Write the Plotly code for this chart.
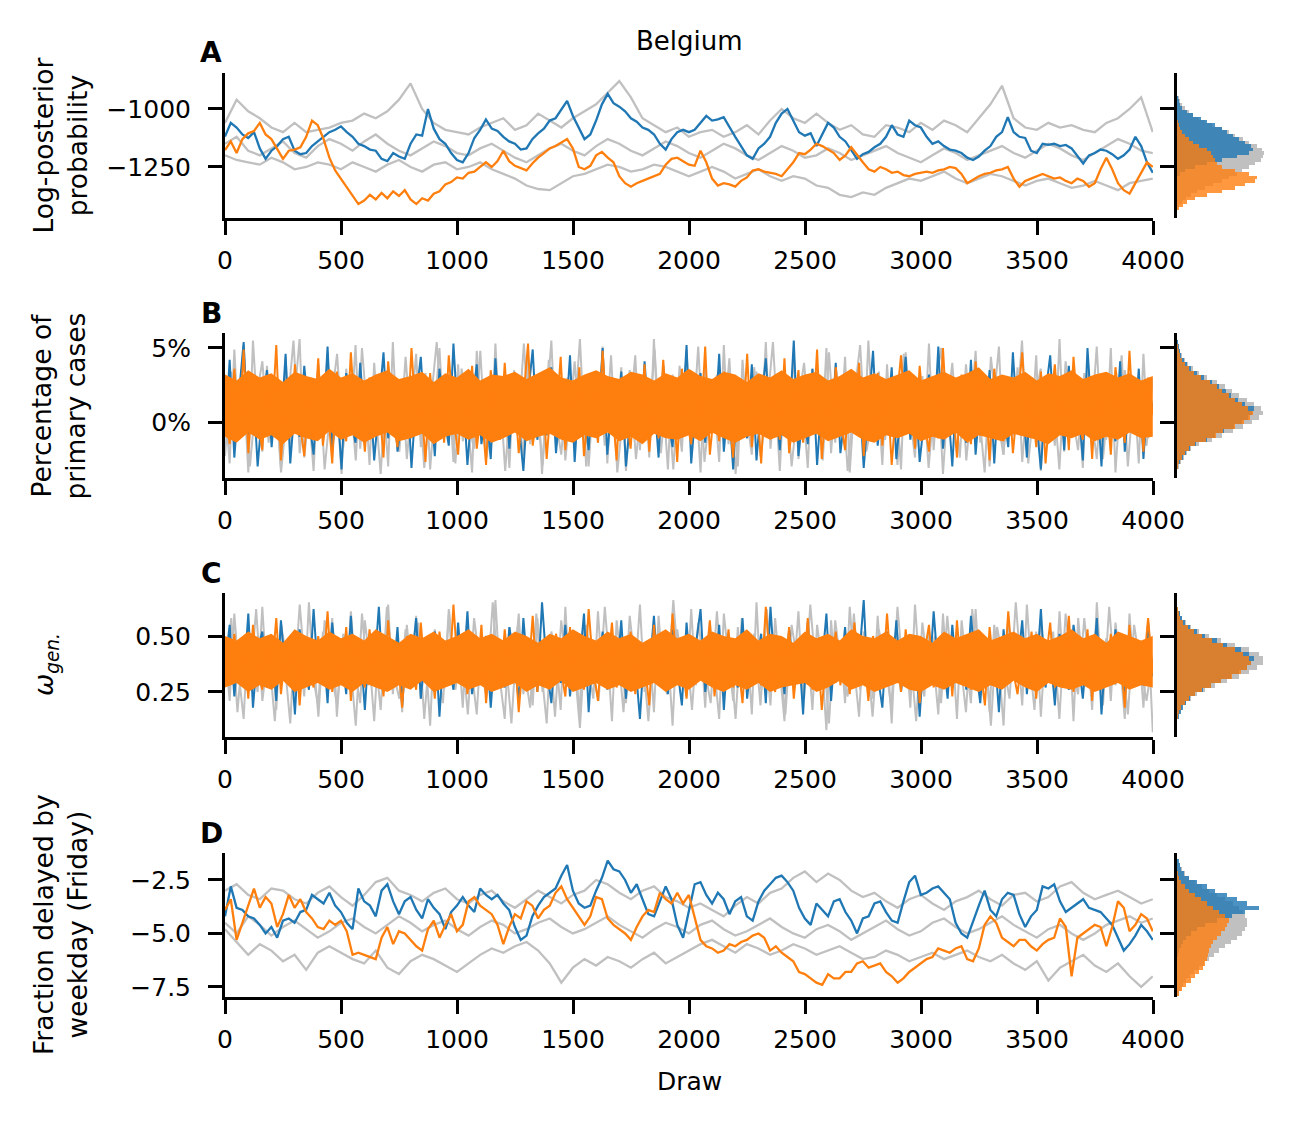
import numpy as np
import plotly.graph_objects as go

W, H = 1300, 1126
BLUE = "#1f77b4"
ORANGE = "#ff7f0e"
GREY = "#c0c0c0"
FONT = "DejaVu Sans"

# ---------------- Panel A: log-posterior probability ----------------
lp_blue = [-1119,-1060,-1080,-1110,-1125,-1100,-1170,-1215,-1180,-1160,
 -1130,-1120,-1180,-1195,-1190,-1160,-1140,-1120,-1100,-1090,
 -1075,-1100,-1120,-1150,-1160,-1175,-1180,-1215,-1225,-1190,
 -1205,-1215,-1150,-1110,-1115,-1000,-1085,-1130,-1150,-1190,
 -1220,-1230,-1190,-1125,-1090,-1045,-1085,-1095,-1120,-1140,
 -1150,-1175,-1170,-1130,-1105,-1085,-1050,-1040,-1000,-965,
 -1030,-1080,-1130,-1110,-1050,-980,-935,-975,-990,-1010,
 -1040,-1055,-1080,-1090,-1110,-1150,-1175,-1130,-1100,-1090,
 -1100,-1090,-1060,-1030,-1050,-1045,-1035,-1080,-1120,-1160,
 -1200,-1215,-1170,-1150,-1120,-1060,-1020,-1000,-1050,-1100,
 -1115,-1105,-1160,-1110,-1060,-1080,-1120,-1140,-1175,-1215,
 -1195,-1185,-1165,-1150,-1120,-1070,-1110,-1120,-1050,-1070,
 -1080,-1120,-1150,-1140,-1160,-1175,-1180,-1190,-1210,-1220,
 -1205,-1180,-1160,-1120,-1100,-1035,-1100,-1120,-1125,-1180,
 -1190,-1150,-1155,-1150,-1160,-1155,-1170,-1200,-1235,-1200,
 -1190,-1175,-1180,-1195,-1215,-1200,-1175,-1120,-1160,-1230,
 -1275]
lp_orange = [-1177,-1140,-1190,-1130,-1105,-1095,-1060,-1110,-1130,-1170,
 -1215,-1180,-1175,-1165,-1120,-1050,-1070,-1130,-1210,-1265,
 -1300,-1335,-1370,-1410,-1395,-1370,-1390,-1362,-1385,-1355,
 -1375,-1350,-1390,-1410,-1385,-1395,-1365,-1355,-1325,-1315,
 -1295,-1300,-1275,-1270,-1250,-1230,-1250,-1225,-1180,-1225,
 -1245,-1255,-1265,-1235,-1210,-1190,-1170,-1160,-1145,-1130,
 -1170,-1250,-1260,-1245,-1200,-1185,-1210,-1230,-1290,-1320,
 -1335,-1320,-1310,-1300,-1290,-1280,-1240,-1215,-1210,-1225,
 -1240,-1245,-1180,-1230,-1300,-1330,-1320,-1325,-1335,-1310,
 -1295,-1265,-1260,-1270,-1275,-1280,-1290,-1260,-1230,-1190,
 -1195,-1175,-1150,-1160,-1175,-1190,-1220,-1200,-1165,-1200,
 -1230,-1260,-1270,-1250,-1260,-1275,-1270,-1285,-1290,-1280,
 -1275,-1270,-1275,-1265,-1260,-1250,-1255,-1280,-1320,-1305,
 -1290,-1280,-1275,-1265,-1260,-1250,-1300,-1335,-1310,-1300,
 -1290,-1280,-1290,-1300,-1295,-1310,-1320,-1300,-1310,-1335,
 -1320,-1260,-1210,-1260,-1320,-1350,-1365,-1320,-1270,-1230,
 -1250]
lp_grey1 = [-1060,-960,-1010,-1040,-1080,-1100,-1060,-1100,-1090,-1080,
 -1060,-1050,-1020,-1040,-1010,-960,-890,-1000,-1060,-1090,
 -1100,-1110,-1080,-1060,-1040,-1090,-1070,-1020,-1050,-1080,
 -1040,-1010,-980,-930,-880,-950,-1040,-1070,-1100,-1080,
 -1120,-1100,-1090,-1120,-1100,-1070,-1110,-1050,-1000,-1040,
 -1060,-1020,-1060,-1090,-1070,-1110,-1120,-1070,-1080,-1100,
 -1060,-1090,-1050,-1070,-1100,-1040,-980,-900,-1040,-1080,
 -1090,-1060,-1080,-1070,-1090,-1100,-1060,-1040,-1000,-950,
 -1100]
lp_grey2 = [-1150,-1120,-1180,-1200,-1170,-1140,-1190,-1210,-1160,-1130,
 -1150,-1180,-1140,-1110,-1150,-1180,-1200,-1170,-1140,-1160,
 -1190,-1200,-1170,-1150,-1180,-1210,-1230,-1200,-1170,-1150,
 -1180,-1200,-1160,-1130,-1150,-1180,-1200,-1170,-1140,-1160,
 -1190,-1210,-1180,-1150,-1170,-1200,-1220,-1190,-1160,-1180,
 -1210,-1200,-1170,-1190,-1220,-1200,-1180,-1160,-1190,-1210,
 -1230,-1200,-1170,-1190,-1220,-1200,-1180,-1160,-1190,-1210,
 -1180,-1150,-1170,-1200,-1220,-1190,-1160,-1130,-1150,-1180,
 -1190]
lp_grey3 = [-1200,-1220,-1230,-1240,-1210,-1230,-1260,-1250,-1230,-1240,
 -1260,-1230,-1250,-1270,-1240,-1220,-1250,-1270,-1240,-1230,
 -1260,-1250,-1230,-1260,-1280,-1300,-1330,-1345,-1350,-1320,
 -1290,-1280,-1260,-1240,-1250,-1270,-1260,-1240,-1250,-1270,
 -1290,-1270,-1250,-1270,-1300,-1280,-1260,-1290,-1310,-1290,
 -1300,-1330,-1340,-1370,-1380,-1360,-1370,-1340,-1320,-1300,
 -1310,-1290,-1270,-1300,-1320,-1300,-1280,-1290,-1310,-1330,
 -1310,-1300,-1320,-1340,-1330,-1310,-1330,-1350,-1320,-1310,
 -1300]

# ---------------- Panel B: percentage of primary cases ----------------
pc_orange = [0.8,-1.5,3.6,-0.7,4.9,-2.1,2.4,0.3,-1.9,3.1,
 -0.4,5.2,-2.6,1.8,-1.0,3.9,0.1,-2.3,2.6,-0.9,
 4.3,-1.6,1.2,-2.8,3.4,0.6,-1.3,4.7,-0.5,2.0,
 -2.0,3.0,-0.8,1.5,-2.4,4.1,0.2,-1.7,2.8,-1.1,
 5.0,-0.3,1.9,-2.7,3.3,-0.6,2.2,-1.4,4.5,0.4,
 -2.2,2.7,-0.9,3.8,-1.8,1.0,-2.9,3.5,0.0,-1.2,
 4.0,-0.7,2.5,-2.1,1.4,5.3,-1.6,0.7,3.2,-2.5,
 1.7,-0.2,4.4,-1.9,2.1,-1.0,3.7,-2.3,0.9,2.9,
 -1.4,4.8,-0.5,1.3,-2.6,3.0,0.5,-1.8,2.4,-0.8,
 3.9,-2.0,1.6,-1.1,4.2,-0.4,2.3,-2.7,3.6,0.2,
 -1.5,2.8,-0.6,5.1,-2.2,1.1,-1.3,3.4,0.8,-2.4,
 2.0,-0.9,4.6,-1.7,1.8,-2.8,3.1,-0.1,2.6,-1.2,
 4.3,-2.1,0.6,3.5,-1.4,2.2,-0.7,4.9,-2.5,1.4,
 -1.0,3.7,0.3,-1.9,2.7,-0.5,4.0,-2.3,1.9,-0.8,
 3.3,-1.6,2.5,-2.9,1.2,4.5,-0.3,2.1,-1.8,3.8,
 0.1,-2.0,2.9,-1.1,5.0,-0.6,1.7,-2.4,3.2,0.7,
 -1.5,4.1,-0.9,2.3,-2.6,3.6,0.4,-1.3,2.8,-2.1,
 1.5,4.7,-0.4,2.0,-1.7,3.4,-2.8,1.0,3.9,-0.7,
 2.4,-1.9,4.4,0.2,-1.2,2.6,-2.5,3.1,-0.3,1.8,
 -2.2,3.7,0.9,-1.4,4.8,-0.8,2.2,-2.0,3.0,0.5]
pc_blue = [-0.9,4.2,-2.4,1.9,5.4,-1.3,2.7,-3.0,0.8,3.5,
 -1.7,2.2,-0.4,4.6,-2.8,1.3,-1.0,3.8,0.3,-2.2,
 2.9,-0.7,5.1,-1.9,1.6,-3.2,3.3,0.1,-1.4,4.0,
 -0.5,2.5,-2.6,1.0,4.7,-1.1,3.1,-2.0,0.6,2.8,
 -3.1,1.7,4.4,-0.8,2.0,-2.3,3.6,0.4,-1.6,5.3,
 -0.2,2.4,-2.9,1.2,3.9,-1.5,0.9,-2.5,4.3,-0.6,
 2.6,-1.8,3.2,0.0,-3.3,1.8,4.9,-1.2,2.1,-0.9,
 3.7,-2.1,1.4,-0.3,4.5,-2.7,2.3,0.7,-1.9,3.0,
 -0.4,5.0,-2.2,1.5,-1.0,3.4,-3.0,0.5,2.7,-1.3,
 4.1,-0.7,1.9,-2.4,3.8,0.2,-1.7,2.9,-0.1,5.2,
 -2.8,1.1,3.3,-1.4,2.0,-0.6,4.6,-2.0,1.6,-3.2,
 2.5,0.3,-1.1,3.9,-2.6,1.3,4.3,-0.8,2.2,-1.9,
 3.1,-0.3,5.5,-2.3,0.9,-1.5,3.6,-2.9,1.7,2.8,
 -1.0,4.0,-2.1,0.6,3.4,-0.5,2.4,-3.1,1.2,4.8,
 -1.6,2.1,-0.2,3.7,-2.5,1.0,4.4,-1.2,2.6,-2.7,
 0.4,3.2,-0.9,5.1,-1.8,1.5,-3.0,2.9,0.1,-1.4,
 4.2,-2.2,1.8,-0.6,3.5,-2.8,2.3,0.8,-1.7,4.7,
 -0.4,2.0,-2.4,3.0,0.2,-3.2,1.9,4.5,-1.1,2.7,
 -1.9,3.8,-0.7,1.4,-2.6,5.0,-0.1,2.2,-3.0,3.3,
 0.5,-1.3,4.1,-2.0,1.7,-0.8,3.6,-2.5,2.4,0.9]
pc_grey1 = [1.2,-2.8,4.9,-1.0,2.6,-3.4,5.5,0.3,-2.0,3.8,
 -0.6,1.9,-3.1,4.4,-1.5,2.3,5.6,-2.4,0.7,-3.3,
 3.1,-0.9,4.7,-2.2,1.4,-3.5,3.6,0.0,5.2,-1.8,
 2.0,-2.9,4.0,-0.4,1.6,-3.0,5.4,-1.2,2.8,-2.5,
 0.9,4.6,-1.7,3.3,-3.2,1.1,5.0,-0.7,2.4,-2.7,
 3.9,-1.3,0.5,-3.4,4.8,-0.2,2.2,-2.1,5.3,-1.0,
 1.7,-3.1,3.5,0.4,-2.3,4.3,-0.8,2.7,-3.5,1.3,
 5.5,-1.6,2.9,-2.6,0.8,4.1,-0.5,3.0,-3.0,1.8,
 -1.4,5.1,-2.8,2.1,-0.3,3.7,-3.3,1.0,4.5,-1.9,
 2.5,-2.4,5.6,-0.9,1.5,-3.2,3.2,0.6,-2.0,4.9,
 -1.1,2.0,-3.4,3.8,-0.4,1.2,-2.7,5.2,-1.5,2.6,
 -3.0,4.2,0.1,-2.2,3.4,-0.7,5.4,-1.8,1.9,-3.3,
 2.8,-0.2,4.6,-2.5,1.0,-3.1,3.6,0.5,-1.3,5.0,
 -2.1,2.3,-0.6,4.4,-3.4,1.4,3.1,-1.7,5.5,-0.3,
 2.0,-2.9,3.9,-1.0,1.6,-3.2,4.7,0.2,-2.4,3.3,
 -0.8,5.3,-1.9,2.5,-3.5,1.1,4.0,-0.5,2.9,-2.6,
 0.7,4.8,-1.4,3.0,-3.0,1.8,5.1,-2.2,2.2,-0.9,
 3.7,-2.7,1.3,-0.4,4.5,-3.3,2.6,0.9,-1.6,5.6,
 -2.0,3.2,-0.7,1.7,-3.1,4.3,0.0,-2.5,2.4,-1.2,
 5.0,-3.4,1.5,3.5,-0.6,2.1,-2.8,4.6,-1.1,1.0]
pc_grey2 = [-2.3,3.4,-0.5,5.2,-3.0,1.6,4.1,-1.4,2.7,-3.4,
 0.9,5.5,-2.1,2.0,-0.8,3.9,-3.2,1.2,4.6,-1.7,
 2.5,-2.6,5.0,-0.3,1.8,-3.5,3.3,0.4,-2.0,4.4,
 -1.1,2.9,-3.1,1.4,5.4,-0.6,2.2,-2.8,3.6,0.1,
 -1.8,4.8,-2.4,1.0,3.1,-3.3,2.4,-0.9,5.3,-1.5,
 1.9,-2.9,4.2,0.6,-2.2,3.0,-0.4,5.6,-3.0,1.5,
 2.8,-1.6,4.5,-3.4,0.8,3.5,-2.5,1.7,-0.7,4.9,
 -2.1,2.3,-3.2,3.8,0.2,-1.3,5.1,-2.7,1.3,3.2,
 -0.5,4.3,-3.5,2.0,-1.0,3.7,-2.3,0.7,5.4,-1.9,
 2.6,-3.0,1.1,4.0,-0.8,2.1,-2.6,4.7,-1.4,3.0,
 -3.3,1.6,5.2,-2.0,0.3,3.4,-1.2,2.5,-2.9,4.6,
 0.0,-1.7,3.1,-3.1,1.9,5.0,-0.6,2.7,-2.4,3.9,
 -1.0,1.2,-3.4,4.4,0.5,-2.2,2.9,-0.3,5.5,-2.8,
 1.4,3.6,-1.5,2.2,-3.2,4.1,0.8,-1.9,3.3,-0.9,
 5.1,-2.5,1.8,-0.4,4.5,-3.0,2.4,0.2,-1.6,3.0]
# solid core of the orange chain (upper / lower edge), every 50 draws
pc_orange_hi = [3.2,2.8,3.5,3.0,3.3,2.7,3.4,3.1,2.9,3.6,
 3.0,3.3,2.8,3.2,3.5,2.9,3.1,3.4,2.7,3.3,
 3.0,3.6,2.8,3.2,3.1,3.4,2.9,3.3,3.7,3.0,
 2.8,3.2,3.5,3.1,2.9,3.4,3.2,2.8,3.3,3.0,
 3.6,3.1,2.9,3.4,3.2,2.7,3.3,3.0,3.5,2.9,
 3.2,3.4,2.8,3.1,3.6,3.0,3.3,2.9,3.2,3.5,
 2.8,3.1,3.4,3.0,3.3,3.7,2.9,3.2,3.0,3.4,
 2.8,3.3,3.1,3.5,2.9,3.2,3.4,3.0,3.3,2.8,
 3.1]
pc_orange_lo = [-1.0,-1.4,-0.7,-1.2,-0.9,-1.5,-0.8,-1.1,-1.3,-0.6,
 -1.2,-0.9,-1.4,-1.0,-0.7,-1.3,-1.1,-0.8,-1.5,-1.0,
 -0.8,-1.2,-0.9,-1.4,-1.1,-0.7,-1.3,-1.0,-0.8,-1.2,
 -1.4,-0.9,-1.1,-0.7,-1.3,-1.0,-1.5,-0.8,-1.1,-1.2,
 -0.9,-1.3,-0.7,-1.1,-1.4,-1.0,-0.8,-1.2,-0.9,-1.4,
 -1.1,-0.8,-1.3,-1.0,-0.7,-1.2,-1.4,-0.9,-1.1,-0.8,
 -1.3,-1.0,-1.2,-0.7,-1.4,-0.9,-1.1,-1.3,-0.8,-1.0,
 -1.2,-1.5,-0.9,-1.1,-0.8,-1.3,-1.0,-1.2,-0.7,-1.1,
 -1.0]

# ---------------- Panel C: omega_gen ----------------
om_orange = [0.42,0.28,0.51,0.31,0.47,0.22,0.55,0.35,0.26,0.49,
 0.33,0.58,0.24,0.44,0.30,0.52,0.19,0.46,0.37,0.27,
 0.50,0.32,0.61,0.25,0.43,0.29,0.54,0.21,0.48,0.36,
 0.27,0.53,0.34,0.45,0.23,0.57,0.31,0.41,0.18,0.50,
 0.38,0.26,0.56,0.30,0.47,0.22,0.52,0.35,0.28,0.64,
 0.33,0.49,0.24,0.44,0.29,0.55,0.20,0.46,0.37,0.27,
 0.53,0.32,0.48,0.16,0.42,0.30,0.59,0.25,0.45,0.34,
 0.28,0.51,0.36,0.23,0.54,0.31,0.47,0.26,0.62,0.35,
 0.21,0.49,0.33,0.56,0.27,0.43,0.30,0.52,0.24,0.46,
 0.38,0.19,0.55,0.32,0.48,0.26,0.60,0.34,0.41,0.22,
 0.50,0.29,0.45,0.35,0.57,0.23,0.47,0.31,0.53,0.27,
 0.40,0.20,0.51,0.33,0.46,0.28,0.63,0.36,0.25,0.49,
 0.32,0.54,0.22,0.44,0.30,0.58,0.26,0.48,0.17,0.42,
 0.35,0.52,0.28,0.47,0.24,0.56,0.33,0.43,0.21,0.50,
 0.37,0.29,0.60,0.31,0.45,0.25,0.53,0.34,0.48,0.20,
 0.42,0.55,0.27,0.46,0.32,0.51,0.23,0.57,0.30,0.44,
 0.26,0.49,0.36,0.19,0.54,0.33,0.47,0.28,0.61,0.35,
 0.24,0.45,0.31,0.52,0.22,0.48,0.38,0.56,0.27,0.43,
 0.34,0.59,0.25,0.46,0.30,0.53,0.21,0.49,0.36,0.28,
 0.51,0.32,0.44,0.18,0.55,0.29,0.47,0.35,0.58,0.33]
om_blue = [0.36,0.55,0.23,0.47,0.30,0.60,0.18,0.44,0.52,0.27,
 0.49,0.21,0.57,0.33,0.45,0.15,0.53,0.38,0.26,0.62,
 0.31,0.48,0.20,0.56,0.35,0.43,0.24,0.59,0.29,0.46,
 0.17,0.51,0.34,0.63,0.25,0.44,0.28,0.54,0.19,0.48,
 0.37,0.58,0.22,0.45,0.31,0.52,0.14,0.47,0.39,0.26,
 0.56,0.30,0.61,0.24,0.43,0.35,0.50,0.18,0.46,0.33,
 0.27,0.54,0.40,0.21,0.58,0.32,0.47,0.25,0.65,0.36,
 0.20,0.49,0.29,0.55,0.23,0.44,0.37,0.60,0.16,0.48,
 0.34,0.52,0.26,0.45,0.31,0.57,0.22,0.50,0.38,0.13,
 0.47,0.33,0.59,0.28,0.43,0.24,0.53,0.36,0.19,0.56,
 0.30,0.46,0.62,0.25,0.41,0.32,0.55,0.17,0.48,0.35,
 0.27,0.58,0.22,0.44,0.37,0.51,0.20,0.63,0.31,0.45,
 0.24,0.53,0.34,0.47,0.15,0.56,0.29,0.42,0.36,0.60,
 0.21,0.49,0.32,0.54,0.26,0.45,0.39,0.66,0.23,0.47,
 0.33,0.18,0.52,0.30,0.57,0.25,0.44,0.35,0.50,0.14,
 0.46,0.28,0.61,0.34,0.42,0.22,0.55,0.31,0.48,0.26,
 0.59,0.37,0.20,0.50,0.33,0.45,0.16,0.53,0.29,0.43,
 0.36,0.57,0.24,0.47,0.31,0.62,0.27,0.44,0.19,0.51,
 0.35,0.26,0.55,0.40,0.22,0.48,0.32,0.58,0.15,0.46,
 0.30,0.53,0.37,0.23,0.50,0.34,0.45,0.28,0.56,0.32]
om_grey1 = [0.45,0.21,0.60,0.32,0.13,0.54,0.38,0.25,0.63,0.29,
 0.48,0.17,0.56,0.35,0.11,0.51,0.41,0.23,0.65,0.30,
 0.19,0.52,0.36,0.58,0.14,0.44,0.27,0.61,0.33,0.20,
 0.57,0.39,0.12,0.49,0.31,0.64,0.24,0.46,0.16,0.55,
 0.34,0.59,0.22,0.42,0.10,0.53,0.37,0.26,0.62,0.28,
 0.47,0.18,0.56,0.33,0.15,0.50,0.40,0.21,0.66,0.30,
 0.13,0.54,0.36,0.60,0.24,0.45,0.19,0.58,0.32,0.11,
 0.52,0.41,0.17,0.63,0.27,0.48,0.14,0.55,0.35,0.22,
 0.61,0.29,0.44,0.12,0.57,0.38,0.20,0.51,0.33,0.64,
 0.25,0.47,0.16,0.59,0.31,0.43,0.10,0.53,0.37,0.23,
 0.62,0.28,0.49,0.18,0.56,0.34,0.13,0.60,0.40,0.21,
 0.54,0.30,0.46,0.15,0.65,0.26,0.42,0.19,0.58,0.36,
 0.12,0.50,0.33,0.61,0.24,0.45,0.17,0.55,0.39,0.08,
 0.57,0.29,0.48,0.20,0.63,0.35,0.14,0.52,0.41,0.22,
 0.59,0.27,0.44,0.11,0.56,0.32,0.47,0.18,0.64,0.34,
 0.23,0.53,0.38,0.15,0.60,0.30,0.46,0.13,0.57,0.37,
 0.20,0.62,0.28,0.50,0.16,0.55,0.36,0.10,0.59,0.31,
 0.45,0.19,0.64,0.33,0.52,0.14,0.48,0.40,0.23,0.61,
 0.27,0.54,0.12,0.58,0.35,0.43,0.17,0.65,0.30,0.49,
 0.21,0.56,0.38,0.13,0.60,0.32,0.46,0.18,0.53,0.07]
om_grey2 = [0.33,0.58,0.16,0.49,0.27,0.62,0.21,0.44,0.12,0.55,
 0.38,0.24,0.64,0.30,0.47,0.14,0.57,0.35,0.19,0.51,
 0.42,0.10,0.60,0.28,0.45,0.17,0.63,0.34,0.22,0.53,
 0.31,0.56,0.13,0.48,0.39,0.20,0.61,0.26,0.46,0.15,
 0.58,0.36,0.23,0.65,0.29,0.43,0.11,0.54,0.37,0.18,
 0.60,0.25,0.50,0.14,0.57,0.32,0.41,0.09,0.55,0.35,
 0.21,0.63,0.28,0.47,0.16,0.59,0.33,0.44,0.12,0.52,
 0.38,0.24,0.66,0.30,0.49,0.17,0.56,0.36,0.20,0.61,
 0.27,0.45,0.13,0.58,0.34,0.51,0.19,0.62,0.29,0.42,
 0.15,0.55,0.37,0.22,0.64,0.31,0.48,0.11,0.57,0.35,
 0.23,0.60,0.26,0.46,0.14,0.53,0.39,0.18,0.63,0.30,
 0.44,0.12,0.56,0.33,0.50,0.20,0.59,0.27,0.41,0.16,
 0.62,0.34,0.47,0.10,0.54,0.38,0.22,0.65,0.29,0.45,
 0.17,0.57,0.32,0.52,0.13,0.60,0.36,0.24,0.58,0.31,
 0.48,0.19,0.63,0.28,0.43,0.15,0.55,0.37,0.21,0.40]
om_orange_hi = [0.50,0.48,0.52,0.49,0.51,0.47,0.53,0.50,0.48,0.52,
 0.49,0.51,0.48,0.53,0.50,0.47,0.51,0.49,0.52,0.48,
 0.50,0.53,0.49,0.51,0.48,0.52,0.50,0.47,0.51,0.49,
 0.53,0.50,0.48,0.52,0.49,0.51,0.47,0.50,0.53,0.49,
 0.51,0.48,0.52,0.50,0.49,0.53,0.48,0.51,0.50,0.47,
 0.52,0.49,0.51,0.48,0.53,0.50,0.49,0.52,0.48,0.51,
 0.50,0.47,0.52,0.49,0.51,0.53,0.48,0.50,0.52,0.49,
 0.51,0.48,0.50,0.53,0.49,0.51,0.47,0.52,0.50,0.48,
 0.50]
om_orange_lo = [0.27,0.29,0.25,0.28,0.26,0.30,0.25,0.27,0.29,0.26,
 0.28,0.25,0.29,0.27,0.25,0.28,0.26,0.30,0.25,0.27,
 0.29,0.26,0.28,0.25,0.27,0.29,0.25,0.28,0.26,0.30,
 0.25,0.27,0.29,0.26,0.28,0.25,0.27,0.29,0.25,0.28,
 0.26,0.30,0.27,0.25,0.28,0.26,0.29,0.25,0.27,0.28,
 0.29,0.25,0.27,0.30,0.26,0.28,0.25,0.27,0.29,0.26,
 0.25,0.28,0.26,0.29,0.27,0.25,0.28,0.26,0.30,0.27,
 0.25,0.29,0.27,0.26,0.28,0.25,0.27,0.29,0.26,0.28,
 0.27]

# ---------------- Panel D: fraction delayed by weekday (Friday) ----------------
fd_blue = [-4.2,-2.8,-3.8,-3.9,-4.2,-4.3,-4.6,-5.0,-4.7,-5.2,
 -4.4,-4.3,-4.5,-4.0,-3.9,-3.2,-3.4,-3.6,-3.1,-3.7,
 -4.0,-4.5,-4.8,-2.9,-3.5,-3.7,-4.2,-3.0,-2.7,-3.5,
 -4.1,-3.5,-3.3,-3.9,-4.3,-3.4,-3.8,-4.1,-4.8,-4.0,
 -3.7,-3.3,-3.7,-4.0,-2.9,-3.2,-3.4,-3.2,-3.6,-3.9,
 -4.7,-5.3,-5.1,-4.2,-3.7,-3.3,-3.1,-2.9,-2.3,-1.8,
 -3.0,-3.6,-3.8,-3.7,-3.0,-2.4,-1.6,-2.0,-2.1,-2.5,
 -3.1,-2.7,-3.4,-4.1,-4.2,-3.5,-2.8,-3.4,-4.6,-5.2,
 -3.9,-2.7,-2.6,-3.2,-3.6,-3.1,-3.4,-4.1,-3.5,-3.3,
 -4.2,-4.4,-3.5,-3.0,-2.7,-2.4,-2.3,-2.6,-3.0,-3.8,
 -4.3,-4.6,-3.6,-3.9,-4.2,-3.5,-3.4,-4.0,-4.4,-5.0,
 -4.3,-4.2,-3.6,-3.5,-4.0,-4.4,-4.5,-3.5,-2.6,-2.3,
 -3.2,-3.1,-2.9,-2.8,-3.1,-3.4,-4.5,-5.0,-5.2,-4.4,
 -3.7,-3.0,-3.9,-4.2,-3.4,-3.1,-3.2,-4.1,-4.7,-4.2,
 -3.9,-2.8,-2.9,-2.7,-3.5,-4.0,-3.8,-3.6,-3.4,-3.8,
 -3.9,-4.0,-4.3,-4.6,-5.2,-5.8,-5.5,-5.1,-4.6,-4.9,
 -5.3]
fd_orange = [-3.9,-3.4,-5.3,-4.5,-3.6,-2.9,-3.8,-3.3,-3.6,-4.7,
 -4.1,-3.2,-3.8,-3.4,-4.0,-4.3,-4.7,-4.8,-4.4,-4.6,
 -4.4,-4.9,-6.0,-5.9,-6.0,-6.1,-6.2,-5.2,-4.7,-5.5,
 -4.9,-5.0,-5.3,-5.6,-5.8,-4.8,-4.4,-5.2,-4.6,-4.1,
 -4.9,-4.6,-3.5,-3.3,-3.7,-3.9,-4.1,-4.6,-5.5,-4.7,
 -4.1,-4.3,-3.5,-3.7,-4.3,-3.9,-3.7,-3.1,-2.8,-3.4,
 -3.8,-4.2,-4.6,-4.2,-3.3,-3.4,-4.3,-4.6,-4.8,-5.0,
 -5.3,-4.7,-4.2,-3.9,-4.0,-3.1,-3.4,-3.6,-3.1,-3.6,
 -3.2,-4.3,-5.3,-5.6,-5.7,-5.9,-5.8,-5.5,-5.6,-5.4,
 -5.3,-5.1,-5.0,-5.2,-5.8,-5.6,-5.9,-6.1,-6.3,-6.8,
 -6.9,-7.1,-7.3,-7.4,-6.9,-7.1,-7.1,-6.8,-6.8,-6.4,
 -6.3,-6.6,-6.5,-6.4,-6.8,-7.0,-7.3,-7.1,-6.8,-6.6,
 -6.4,-6.2,-6.1,-5.7,-5.8,-5.9,-5.7,-5.6,-6.2,-6.3,
 -5.7,-4.6,-4.2,-4.5,-5.2,-5.4,-5.6,-5.3,-5.3,-5.6,
 -5.8,-5.5,-5.3,-5.2,-4.3,-4.7,-7.0,-5.2,-5.0,-4.8,
 -4.6,-4.7,-5.6,-4.7,-3.5,-3.8,-4.9,-4.6,-4.1,-4.3,
 -4.9]
fd_grey1 = [-3.0,-2.7,-3.2,-3.4,-2.9,-3.0,-3.4,-3.6,-3.1,-2.8,
 -3.3,-3.7,-3.2,-2.6,-2.4,-3.0,-3.2,-3.5,-3.1,-2.9,
 -3.4,-3.6,-3.2,-3.0,-3.5,-3.8,-3.4,-3.0,-3.3,-3.6,
 -3.2,-3.0,-2.5,-2.7,-3.1,-3.4,-3.0,-2.8,-3.3,-3.5,
 -3.8,-3.6,-3.9,-4.2,-3.7,-3.3,-3.6,-3.1,-2.9,-2.4,
 -2.1,-2.6,-2.2,-2.5,-3.0,-3.3,-3.1,-3.5,-3.8,-3.4,
 -3.2,-3.6,-3.9,-3.5,-3.3,-3.0,-3.4,-3.7,-3.2,-3.1,
 -3.5,-3.3,-2.8,-2.6,-3.1,-3.4,-3.2,-3.0,-3.3,-3.6,
 -3.4]
fd_grey2 = [-4.5,-5.0,-4.2,-4.6,-5.1,-4.7,-4.4,-4.8,-5.2,-4.9,
 -4.5,-4.3,-4.7,-5.0,-4.6,-4.2,-4.5,-4.9,-4.6,-4.4,
 -4.8,-5.1,-4.7,-4.4,-4.6,-5.0,-4.8,-4.5,-4.3,-4.7,
 -5.0,-4.8,-4.5,-4.2,-4.6,-4.9,-5.2,-4.8,-4.5,-4.7,
 -5.0,-4.6,-4.4,-4.8,-5.1,-4.9,-4.6,-4.3,-4.7,-5.0,
 -5.2,-4.8,-4.6,-4.9,-5.3,-5.0,-4.7,-4.4,-4.8,-5.1,
 -4.9,-4.5,-4.3,-4.7,-5.0,-4.8,-4.5,-4.2,-4.6,-4.9,
 -5.2,-4.8,-4.6,-5.0,-5.3,-5.0,-4.6,-4.4,-4.2,-4.5,
 -4.3]
fd_grey3 = [-4.8,-5.4,-6.0,-5.5,-5.8,-6.3,-6.0,-6.7,-5.9,-5.6,
 -5.9,-6.2,-6.4,-5.8,-6.6,-6.9,-6.3,-6.0,-6.2,-6.5,
 -6.8,-6.4,-6.0,-5.7,-5.9,-5.6,-5.4,-5.8,-6.4,-7.3,
 -6.6,-6.2,-6.5,-6.1,-6.3,-6.6,-6.2,-5.9,-6.4,-6.1,
 -5.8,-5.5,-5.3,-5.6,-5.9,-5.5,-5.7,-6.0,-5.8,-5.5,
 -5.7,-6.0,-5.8,-5.6,-5.9,-6.2,-6.1,-5.8,-6.0,-6.3,
 -6.1,-5.9,-6.2,-6.0,-5.8,-6.1,-6.3,-6.0,-6.4,-6.7,
 -6.3,-7.2,-6.6,-6.3,-6.0,-6.5,-6.8,-6.4,-7.0,-7.5,
 -7.0]

# ---------------- Marginal histograms (bar lengths) ----------------
hA_bins = np.arange(-1430, -940, 15)
hA_grey = [0,2,5,9,14,20,28,36,45,52,60,65,72,78,84,86,87,85,80,72,66,58,52,45,35,28,22,16,12,8,5,3,2]
hA_blue = [0,0,0,0,0,0,0,0,0,0,3,8,18,30,45,60,72,76,74,68,62,56,50,45,38,30,24,16,10,5,3,2,1]
hA_orange = [2,6,10,18,30,45,58,68,78,80,72,58,45,40,38,36,34,30,22,16,12,8,5,3,2,1,0,0,0,0,0,0,0]

hB_bins = np.arange(-3.0, 5.5, 0.3)
hB_grey = [2,4,7,10,14,22,35,45,56,66,75,82,86,84,77,70,62,55,48,40,30,22,16,11,8,5,3,2,1]
hB_blue = [1,3,6,9,13,19,30,38,47,57,65,71,75,77,68,61,54,49,42,35,27,20,14,10,7,4,3,2,1]
hB_orange = [1,2,5,8,12,18,29,39,46,58,67,73,76,71,65,58,52,45,40,33,24,17,12,8,5,3,2,1,0]

hC_bins = np.arange(0.14, 0.63, 0.02)
hC_grey = [1,3,5,9,14,20,28,38,50,62,72,80,86,86,82,72,58,44,32,22,14,9,5,3,1]
hC_blue = [2,4,6,9,13,18,26,34,44,54,62,70,74,77,72,64,50,40,28,20,13,8,5,3,1]
hC_orange = [1,2,4,8,12,18,25,34,44,55,64,70,74,72,66,58,46,35,25,17,11,6,3,2,1]

hD_bins = np.arange(-7.8, -1.5, 0.2)
hD_grey = [2,4,6,9,13,17,22,27,32,37,42,48,54,60,65,68,70,70,68,66,62,56,48,40,32,25,18,12,8,5,3,1]
hD_blue = [0,0,0,0,0,0,0,0,0,1,2,4,6,9,14,20,28,40,55,68,82,70,60,50,38,30,20,12,7,4,3,2]
hD_orange = [2,5,9,14,18,22,26,28,30,31,32,34,36,40,44,48,50,52,48,42,36,30,24,18,12,8,4,2,1,0,0,0]

# ---------------- Axis labels & ticks ----------------
x_ticks = [0, 500, 1000, 1500, 2000, 2500, 3000, 3500, 4000]

panels = [
    dict(letter="A", title="Log-posterior<br>probability", tx=60,
         blue=lp_blue, orange=lp_orange, greys=[lp_grey1, lp_grey2, lp_grey3], core=None,
         hist=(hA_bins, 15, hA_grey, hA_blue, hA_orange),
         rng=[-1470, -845], tv=[-1250, -1000], tt=["\u22121250", "\u22121000"],
         top=73, bot=218, lw=2.3),
    dict(letter="B", title="Percentage of<br>primary cases", tx=58,
         blue=pc_blue, orange=pc_orange, greys=[pc_grey1, pc_grey2],
         core=(pc_orange_hi, pc_orange_lo),
         hist=(hB_bins, 0.3, hB_grey, hB_blue, hB_orange),
         rng=[-3.78, 6.01], tv=[0, 5], tt=["0%", "5%"],
         top=333, bot=478, lw=2.0),
    dict(letter="C", title="<i>\u03c9</i><sub><i>gen.</i></sub>", tx=45,
         blue=om_blue, orange=om_orange, greys=[om_grey1, om_grey2],
         core=(om_orange_hi, om_orange_lo),
         hist=(hC_bins, 0.02, hC_grey, hC_blue, hC_orange),
         rng=[0.049, 0.692], tv=[0.25, 0.50], tt=["0.25", "0.50"],
         top=593, bot=737, lw=2.0),
    dict(letter="D", title="Fraction delayed by<br>weekday (Friday)", tx=60,
         blue=fd_blue, orange=fd_orange, greys=[fd_grey1, fd_grey2, fd_grey3], core=None,
         hist=(hD_bins, 0.2, hD_grey, hD_blue, hD_orange),
         rng=[-7.97, -1.24], tv=[-7.5, -5.0, -2.5], tt=["\u22127.5", "\u22125.0", "\u22122.5"],
         top=853, bot=997, lw=2.3),
]


def draws(v):
    return np.linspace(0, 3999, len(v))


def line_trace(vals, col, lw, xs, ys):
    return go.Scatter(x=draws(vals), y=vals, mode="lines", xaxis=xs, yaxis=ys,
                      line=dict(color=col, width=lw), showlegend=False, hoverinfo="skip")


def band_trace(hi, lo, col, xs, ys):
    d = draws(hi)
    return go.Scatter(x=np.concatenate([d, d[::-1]]),
                      y=np.concatenate([np.asarray(hi, float), np.asarray(lo, float)[::-1]]),
                      mode="lines", fill="toself", fillcolor=col, line=dict(width=0, color=col),
                      xaxis=xs, yaxis=ys, showlegend=False, hoverinfo="skip")


fig = go.Figure()
layout = {}
annotations = []

for i, p in enumerate(panels):
    mx, hx = 2 * i + 1, 2 * i + 2
    mxs = "x" if mx == 1 else f"x{mx}"
    mys = "y" if mx == 1 else f"y{mx}"
    hxs, hys = f"x{hx}", f"y{hx}"
    ydom = [1 - p["bot"] / H, 1 - p["top"] / H]

    for g in p["greys"]:
        fig.add_trace(line_trace(g, GREY, p["lw"], mxs, mys))
    fig.add_trace(line_trace(p["blue"], BLUE, p["lw"], mxs, mys))
    if p["core"] is not None:
        fig.add_trace(band_trace(p["core"][0], p["core"][1], ORANGE, mxs, mys))
    fig.add_trace(line_trace(p["orange"], ORANGE, p["lw"], mxs, mys))

    bins, step, hg, hb, ho = p["hist"]
    for vals, col, op in [(hg, GREY, 1.0), (hb, BLUE, 0.8), (ho, ORANGE, 0.8)]:
        fig.add_trace(go.Bar(y=bins, x=vals, orientation="h", width=step, xaxis=hxs, yaxis=hys,
                             marker=dict(color=col, line=dict(width=0)), opacity=op,
                             showlegend=False, hoverinfo="skip"))

    common_tick = dict(ticks="outside", ticklen=14, tickwidth=3, tickcolor="black",
                       showline=True, linewidth=3, linecolor="black",
                       showgrid=False, zeroline=False, automargin=False)
    layout["xaxis" if mx == 1 else f"xaxis{mx}"] = dict(
        domain=[225 / W, 1153 / W], range=[0, 4000], anchor=mys,
        tickmode="array", tickvals=x_ticks, ticktext=[str(t) for t in x_ticks],
        tickfont=dict(size=25, color="black", family=FONT), ticklabelstandoff=4,
        **common_tick)
    layout["yaxis" if mx == 1 else f"yaxis{mx}"] = dict(
        domain=ydom, range=p["rng"], anchor=mxs,
        tickmode="array", tickvals=p["tv"], ticktext=p["tt"],
        tickfont=dict(size=25, color="black", family=FONT), ticklabelstandoff=12,
        **common_tick)
    layout[f"xaxis{hx}"] = dict(domain=[1177 / W, 1272 / W], anchor=hys, visible=False,
                                range=[0, 95], showgrid=False, zeroline=False, automargin=False)
    layout[f"yaxis{hx}"] = dict(domain=ydom, range=p["rng"], anchor=hxs,
                                tickmode="array", tickvals=p["tv"], showticklabels=False,
                                **common_tick)

    annotations.append(dict(text=f"<b>{p['letter']}</b>", x=211 / W, y=1 - (p["top"] - 20) / H,
                            xref="paper", yref="paper", showarrow=False,
                            xanchor="center", yanchor="middle",
                            font=dict(size=28, color="black", family=FONT)))
    annotations.append(dict(text=p["title"], x=p["tx"] / W, y=1 - (p["top"] + p["bot"]) / 2 / H,
                            xref="paper", yref="paper", showarrow=False, textangle=-90,
                            xanchor="center", yanchor="middle",
                            font=dict(size=26.5, color="black", family=FONT)))

annotations.append(dict(text="Belgium", x=689 / W, y=1 - 41 / H, xref="paper", yref="paper",
                        showarrow=False, xanchor="center", yanchor="middle",
                        font=dict(size=26, color="black", family=FONT)))
annotations.append(dict(text="Draw", x=689 / W, y=1 - 1081 / H, xref="paper", yref="paper",
                        showarrow=False, xanchor="center", yanchor="middle",
                        font=dict(size=25, color="black", family=FONT)))

fig.update_layout(
    width=W, height=H, margin=dict(l=0, r=0, t=0, b=0, autoexpand=False),
    paper_bgcolor="white", plot_bgcolor="white",
    barmode="overlay", bargap=0,
    font=dict(family=FONT, color="black", size=25),
    annotations=annotations,
    **layout,
)

fig.write_html("out.html",
               config={"displayModeBar": False, "staticPlot": True},
               post_script="document.body.style.margin='0px';document.body.style.padding='0px';")
